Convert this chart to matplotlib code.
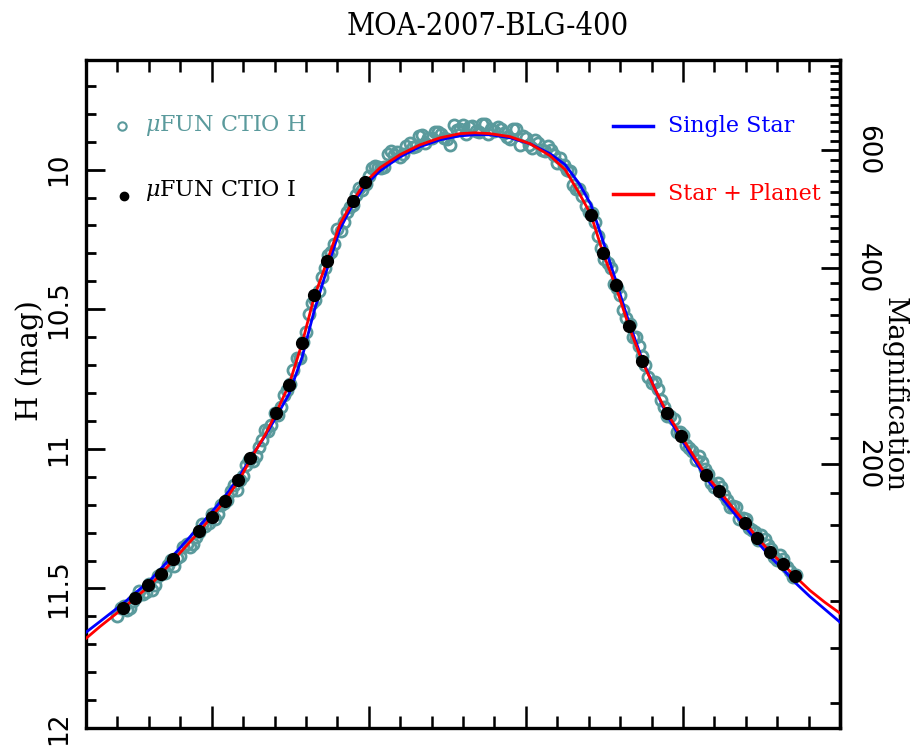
import numpy as np
import matplotlib
matplotlib.use("Agg")
import matplotlib.pyplot as plt
from matplotlib.ticker import MultipleLocator, FixedLocator, NullFormatter

plt.rcParams['mathtext.fontset'] = 'dejavuserif'

# ---------------- data ----------------
# model curves (time in arbitrary units, H magnitude)
model_t = [-4.00, -3.55, -2.82, -1.96, -1.17, -0.37, 0.42, 0.90, 1.28, 1.70,
           2.05, 2.46, 2.88, 3.26, 3.67, 4.08, 4.50, 4.88, 5.36, 6.00,
           6.63, 7.27, 7.90, 8.38, 8.86, 9.50, 10.13, 10.77, 11.25, 11.72,
           12.07, 12.46, 12.87, 13.28, 13.70, 14.11, 14.49, 14.94, 15.38, 15.73,
           16.15, 16.56, 16.98, 17.36, 17.77, 18.19, 18.57, 19.04, 19.52, 20.00]
planet_H = [11.679, 11.636, 11.571, 11.489, 11.393, 11.293, 11.186, 11.107, 11.029, 10.950,
            10.871, 10.771, 10.621, 10.457, 10.329, 10.196, 10.111, 10.046, 9.993, 9.946,
            9.911, 9.886, 9.871, 9.868, 9.871, 9.882, 9.907, 9.950, 10.000, 10.089,
            10.161, 10.300, 10.421, 10.561, 10.686, 10.786, 10.871, 10.954, 11.032, 11.093,
            11.150, 11.207, 11.264, 11.318, 11.368, 11.414, 11.457, 11.507, 11.550, 11.589]
single_H = [11.657, 11.618, 11.554, 11.471, 11.375, 11.275, 11.171, 11.096, 11.025, 10.954,
            10.886, 10.804, 10.671, 10.507, 10.357, 10.214, 10.121, 10.057, 10.004, 9.954,
            9.918, 9.893, 9.879, 9.875, 9.875, 9.886, 9.907, 9.943, 9.982, 10.054,
            10.125, 10.257, 10.400, 10.546, 10.679, 10.786, 10.879, 10.964, 11.043, 11.104,
            11.164, 11.221, 11.279, 11.332, 11.386, 11.432, 11.479, 11.529, 11.575, 11.621]

# muFUN CTIO H data (two interleaved runs)
h_t = [-3.0, -2.8, -2.6, -2.4, -2.2, -2.0, -1.8, -1.6, -1.4, -1.2,
       -1.0, -0.8, -0.6, -0.4, -0.2, 0.0, 0.2, 0.4, 0.6, 0.8,
       1.0, 1.2, 1.4, 1.6, 1.8, 2.0, 2.2, 2.4, 2.6, 2.8,
       3.0, 3.2, 3.4, 3.6, 3.8, 4.0, 4.2, 4.4, 4.6, 4.8,
       5.0, 5.2, 5.4, 5.6, 5.8, 6.0, 6.2, 6.4, 6.6, 6.8,
       7.0, 7.2, 7.4, 7.6, 7.8, 8.0, 8.2, 8.4, 8.6, 8.8,
       9.0, 9.2, 9.4, 9.6, 9.8, 10.0, 10.2, 10.4, 10.6, 10.8,
       11.0, 11.2, 11.4, 11.6, 11.8, 12.0, 12.2, 12.4, 12.6, 12.8,
       13.0, 13.2, 13.4, 13.6, 13.8, 14.0, 14.2, 14.4, 14.6, 14.8,
       15.0, 15.2, 15.4, 15.6, 15.8, 16.0, 16.2, 16.4, 16.6, 16.8,
       17.0, 17.2, 17.4, 17.6, 17.8, 18.0, 18.2, 18.4, 18.6]
h_mag = [11.599, 11.563, 11.570, 11.531, 11.520, 11.483, 11.486, 11.449, 11.417, 11.421,
         11.384, 11.341, 11.342, 11.297, 11.278, 11.233, 11.232, 11.193, 11.152, 11.147,
         11.098, 11.039, 11.026, 10.969, 10.935, 10.872, 10.850, 10.790, 10.717, 10.674,
         10.581, 10.477, 10.433, 10.351, 10.295, 10.212, 10.188, 10.135, 10.090, 10.074,
         10.023, 9.987, 9.994, 9.945, 9.947, 9.956, 9.915, 9.918, 9.879, 9.906,
         9.887, 9.865, 9.887, 9.912, 9.859, 9.840, 9.849, 9.862, 9.835, 9.873,
         9.863, 9.853, 9.884, 9.856, 9.912, 9.888, 9.922, 9.905, 9.933, 9.929,
         9.976, 9.985, 10.004, 10.070, 10.093, 10.153, 10.187, 10.279, 10.333, 10.410,
         10.449, 10.530, 10.601, 10.632, 10.698, 10.765, 10.786, 10.851, 10.883, 10.938,
         10.949, 10.996, 11.039, 11.046, 11.091, 11.136, 11.137, 11.185, 11.204, 11.250,
         11.251, 11.291, 11.327, 11.323, 11.359, 11.399, 11.395, 11.438, 11.452]
h2_t = [-2.9, -2.7, -2.5, -2.3, -2.1, -1.9, -1.7, -1.5, -1.3, -1.1,
        -0.9, -0.7, -0.5, -0.3, -0.1, 0.1, 0.3, 0.5, 0.7, 0.9,
        1.1, 1.3, 1.5, 1.7, 1.9, 2.1, 2.3, 2.5, 2.7, 2.9,
        3.1, 3.3, 3.5, 3.7, 3.9, 4.1, 4.3, 4.5, 4.7, 4.9,
        5.1, 5.3, 5.5, 5.7, 5.9, 6.1, 6.3, 6.5, 6.7, 6.9,
        7.1, 7.3, 7.5, 7.7, 7.9, 8.1, 8.3, 8.5, 8.7, 8.9,
        9.1, 9.3, 9.5, 9.7, 9.9, 10.1, 10.3, 10.5, 10.7, 10.9,
        11.1, 11.3, 11.5, 11.7, 11.9, 12.1, 12.3, 12.5, 12.7, 12.9,
        13.1, 13.3, 13.5, 13.7, 13.9, 14.1, 14.3, 14.5, 14.7, 14.9,
        15.1, 15.3, 15.5, 15.7, 15.9, 16.1, 16.3, 16.5, 16.7, 16.9,
        17.1, 17.3, 17.5, 17.7, 17.9, 18.1, 18.3, 18.5]
h2_mag = [11.570, 11.578, 11.545, 11.508, 11.513, 11.504, 11.456, 11.445, 11.399, 11.391,
          11.352, 11.353, 11.314, 11.270, 11.267, 11.252, 11.201, 11.185, 11.130, 11.111,
          11.058, 11.044, 10.992, 10.934, 10.915, 10.880, 10.808, 10.766, 10.676, 10.616,
          10.518, 10.466, 10.386, 10.305, 10.265, 10.219, 10.150, 10.125, 10.067, 10.053,
          9.994, 9.989, 9.991, 9.932, 9.936, 9.945, 9.904, 9.915, 9.877, 9.885,
          9.865, 9.874, 9.889, 9.840, 9.854, 9.874, 9.843, 9.865, 9.838, 9.856,
          9.847, 9.867, 9.891, 9.854, 9.880, 9.911, 9.893, 9.928, 9.914, 9.948,
          9.957, 10.000, 10.055, 10.070, 10.132, 10.155, 10.239, 10.320, 10.353, 10.425,
          10.504, 10.554, 10.601, 10.667, 10.741, 10.761, 10.825, 10.881, 10.892, 10.939,
          10.987, 11.006, 11.027, 11.071, 11.123, 11.122, 11.167, 11.209, 11.208, 11.246,
          11.285, 11.297, 11.309, 11.343, 11.388, 11.382, 11.423, 11.459]

# muFUN CTIO I data
i_t = [-2.82, -2.44, -2.03, -1.61, -1.23, -0.40, 0.01, 0.42, 0.84, 1.22,
       2.05, 2.46, 2.88, 3.26, 3.67, 4.50, 4.88,
       12.07, 12.46, 12.87, 13.28, 13.70, 14.49, 14.94, 15.73, 16.15,
       16.98, 17.36, 17.77, 18.19, 18.57]
i_mag = [11.571, 11.536, 11.489, 11.450, 11.393, 11.293, 11.243, 11.186, 11.111, 11.032,
         10.871, 10.771, 10.621, 10.450, 10.329, 10.111, 10.046,
         10.161, 10.300, 10.414, 10.561, 10.686, 10.871, 10.954, 11.093, 11.150,
         11.264, 11.318, 11.368, 11.411, 11.457]

left_ticks = [10, 10.5, 11, 11.5, 12]
left_labels = ['10', '10.5', '11', '11.5', '12']
mag_major = [200, 400, 600]
mag_labels = ['200', '400', '600']
mag_zero = 16.912   # H of unit (source+blend) flux
blend = 20.0        # blend flux in source units

TEAL = '#5a9a9c'

# ---------------- figure ----------------
fig = plt.figure(figsize=(9.22, 7.49), dpi=100)
ax = fig.add_axes([0.0933, 0.028, 0.8178, 0.892])

ax.plot(h_t, h_mag, 'o', mfc='none', mec=TEAL, mew=2.0, ms=8, zorder=2)
ax.plot(h2_t, h2_mag, 'o', mfc='none', mec=TEAL, mew=2.0, ms=8, zorder=2)
ax.plot(model_t, single_H, '-', color='#0000ff', lw=2.0, zorder=3)
ax.plot(model_t, planet_H, '-', color='#ff0000', lw=2.0, zorder=4)
ax.plot(i_t, i_mag, 'o', color='black', ms=8.5, zorder=5)

ax.set_xlim(-4, 20)
ax.set_ylim(12, 9.607)

ax.xaxis.set_major_locator(MultipleLocator(5))
ax.xaxis.set_minor_locator(MultipleLocator(1))
ax.xaxis.set_major_formatter(NullFormatter())
ax.set_yticks(left_ticks)
ax.set_yticklabels(left_labels, rotation=90, va='center',
                   fontsize=19, family='DejaVu Sans')
ax.yaxis.set_minor_locator(MultipleLocator(0.1))

ax.tick_params(axis='x', which='major', direction='in', length=16, width=1.8,
               top=True, bottom=True)
ax.tick_params(axis='x', which='minor', direction='in', length=8.5, width=1.8,
               top=True, bottom=True)
ax.tick_params(axis='y', which='major', direction='in', length=14, width=2.0,
               left=True, right=False, pad=10)
ax.tick_params(axis='y', which='minor', direction='in', length=7, width=2.0,
               left=True, right=False)
for s in ax.spines.values():
    s.set_linewidth(2.4)

# right magnification axis
def h2a(h):
    return 10 ** ((mag_zero - np.asarray(h, dtype=float)) / 2.5) - blend

def a2h(a):
    a = np.clip(np.asarray(a, dtype=float) + blend, 1e-6, None)
    return mag_zero - 2.5 * np.log10(a)

sec = ax.secondary_yaxis('right', functions=(h2a, a2h))
sec.set_yticks(mag_major)
sec.set_yticklabels(mag_labels, rotation=-90, va='center',
                    fontsize=19, family='DejaVu Sans')
sec.yaxis.set_minor_locator(FixedLocator([a for a in range(80, 820, 20)
                                          if a not in mag_major]))
sec.tick_params(axis='y', which='major', direction='in', length=14, width=2.0, pad=10)
sec.tick_params(axis='y', which='minor', direction='in', length=7, width=2.0)
sec.spines['right'].set_linewidth(2.4)

# labels and title
fig.text(0.529, 0.964, 'MOA-2007-BLG-400', ha='center', va='center',
         fontsize=22, family='DejaVu Serif', fontstretch='condensed')
fig.text(0.032, 0.519, 'H (mag)', rotation=90, ha='center', va='center',
         fontsize=21, family='DejaVu Serif')
fig.text(0.970, 0.473, 'Magnification', rotation=-90, ha='center', va='center',
         fontsize=20, family='DejaVu Serif')

# legend entries
ax.plot([0.0477], [0.9012], 'o', mfc='none', mec=TEAL, mew=1.5, ms=6,
        transform=ax.transAxes, clip_on=False)
ax.text(0.0782, 0.9012, r'$\mu$FUN CTIO H', color=TEAL, fontsize=16,
        family='DejaVu Serif', va='center', ha='left', transform=ax.transAxes)
ax.plot([0.0504], [0.797], 'o', color='black', ms=6,
        transform=ax.transAxes, clip_on=False)
ax.text(0.0782, 0.805, r'$\mu$FUN CTIO I', color='black', fontsize=16,
        family='DejaVu Serif', va='center', ha='left', transform=ax.transAxes)
ax.plot([0.699, 0.752], [0.9012, 0.9012], '-', color='#0000ff', lw=2.5,
        transform=ax.transAxes)
ax.text(0.772, 0.9012, 'Single Star', color='#0000ff', fontsize=16,
        family='DejaVu Serif', va='center', ha='left', transform=ax.transAxes)
ax.plot([0.699, 0.752], [0.799, 0.799], '-', color='#ff0000', lw=2.5,
        transform=ax.transAxes)
ax.text(0.772, 0.799, 'Star + Planet', color='#ff0000', fontsize=16,
        family='DejaVu Serif', va='center', ha='left', transform=ax.transAxes)

fig.savefig('out.png', dpi=100)
